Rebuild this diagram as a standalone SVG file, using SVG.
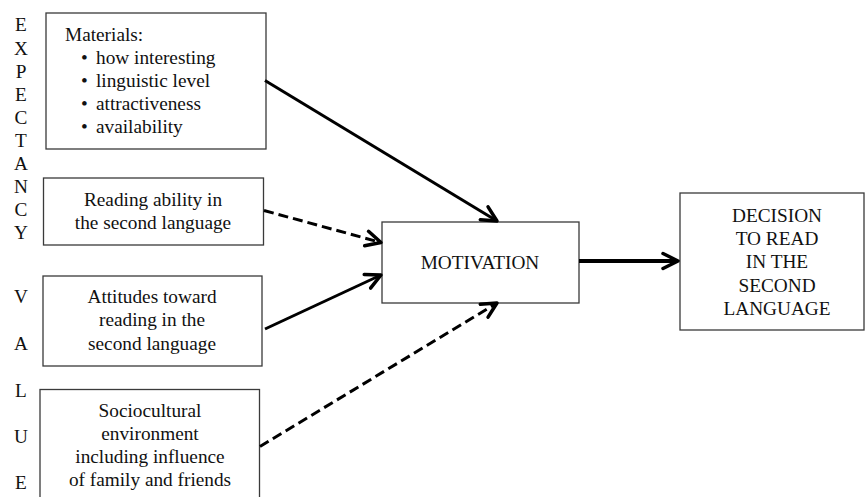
<svg xmlns="http://www.w3.org/2000/svg" width="865" height="497" viewBox="0 0 865 497">
<style>
text{font-family:"Liberation Serif",serif;font-size:19.3px;fill:#111}
.box{fill:#fff;stroke:#3a3a3a;stroke-width:1.3}
.edge{fill:none;stroke:#000;stroke-width:3}
.dash{stroke-dasharray:10 5}
</style>
<defs>
<marker id="arr" markerUnits="userSpaceOnUse" viewBox="0 0 20 20" markerWidth="20" markerHeight="20" refX="17" refY="10" orient="auto">
<path d="M2,2.5 L17,10 L2,17.5" fill="none" stroke="#000" stroke-width="3.5" stroke-linejoin="round" stroke-linecap="round"/>
</marker>
</defs>
<rect width="865" height="497" fill="#fff"/>
<g font-family="Liberation Serif, serif" font-size="19.3" fill="#111">
<g id="expectancy-label" text-anchor="middle">
<text x="21" y="31">E</text>
<text x="21" y="55">X</text>
<text x="21" y="78">P</text>
<text x="21" y="101">E</text>
<text x="21" y="124">C</text>
<text x="21" y="147">T</text>
<text x="21" y="170">A</text>
<text x="21" y="193">N</text>
<text x="21" y="216">C</text>
<text x="21" y="239">Y</text>
</g>
<g id="value-label" text-anchor="middle">
<text x="21" y="303">V</text>
<text x="21" y="350">A</text>
<text x="21" y="397">L</text>
<text x="21" y="443">U</text>
<text x="21" y="489">E</text>
</g>
<g id="materials">
<rect class="box" x="46" y="13" width="220" height="136"/>
<text x="65" y="41">Materials:</text>
<text x="81" y="64">•</text><text x="96" y="64">how interesting</text>
<text x="81" y="87">•</text><text x="96" y="87">linguistic level</text>
<text x="81" y="110">•</text><text x="96" y="110">attractiveness</text>
<text x="81" y="133">•</text><text x="96" y="133">availability</text>
</g>
<g id="reading-ability" text-anchor="middle">
<rect class="box" x="43.5" y="178" width="220" height="67"/>
<text x="153" y="206">Reading ability in</text>
<text x="153" y="229">the second language</text>
</g>
<g id="attitudes" text-anchor="middle">
<rect class="box" x="43" y="276" width="219" height="90"/>
<text x="152" y="303">Attitudes toward</text>
<text x="152" y="326">reading in the</text>
<text x="152" y="350">second language</text>
</g>
<g id="sociocultural" text-anchor="middle">
<rect class="box" x="40" y="389.5" width="219.5" height="120"/>
<text x="150" y="417">Sociocultural</text>
<text x="150" y="440">environment</text>
<text x="150" y="463">including influence</text>
<text x="150" y="486">of family and friends</text>
</g>
<g id="motivation" text-anchor="middle">
<rect class="box" x="382" y="222" width="197" height="81"/>
<text x="480" y="269">MOTIVATION</text>
</g>
<g id="decision" text-anchor="middle">
<rect class="box" x="680" y="193" width="184" height="137"/>
<text x="777" y="222">DECISION</text>
<text x="777" y="245">TO READ</text>
<text x="777" y="268">IN THE</text>
<text x="777" y="292">SECOND</text>
<text x="777" y="315">LANGUAGE</text>
</g>
</g>
<g id="connectors">
<path class="edge" d="M265,80.5 L497,221" marker-end="url(#arr)"/>
<path class="edge dash" d="M264,210.5 L381,242.5" marker-end="url(#arr)"/>
<path class="edge" d="M265,329 L381,275" marker-end="url(#arr)"/>
<path class="edge dash" d="M260,446.5 L497,303" marker-end="url(#arr)"/>
<path class="edge" d="M579,261 L678,261" marker-end="url(#arr)" style="stroke-width:4"/>
</g>
</svg>
